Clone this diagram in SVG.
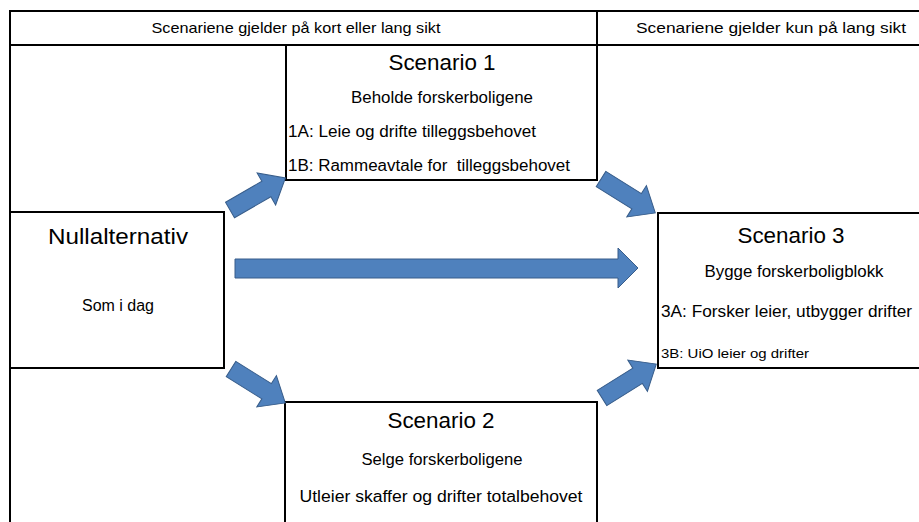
<svg xmlns="http://www.w3.org/2000/svg" width="919" height="522" viewBox="0 0 919 522">
<style>
.ln{fill:none;stroke:#000;stroke-width:2}
.bx{fill:#fff;stroke:#000;stroke-width:2}
text{font-family:"Liberation Sans",Arial,sans-serif;fill:#000}
.h{font-size:15px}
.t{font-size:22px}
.s{font-size:16px}
.sm{font-size:13px}
.ar{fill:#4F81BD;stroke:#385D8A;stroke-width:1}
</style>
<defs>
<path id="arr" d="M0,-9 H42 V-18.5 L64,0 L42,18.5 V9 H0 Z"/>
</defs>
<rect width="919" height="522" fill="#fff"/>
<g id="table">
<rect class="ln" x="10" y="11" width="930" height="34"/>
<line class="ln" x1="597" y1="11" x2="597" y2="45"/>
<line class="ln" x1="10" y1="45" x2="10" y2="530"/>
<text class="h" x="296" y="33" text-anchor="middle" textLength="289" lengthAdjust="spacingAndGlyphs">Scenariene gjelder på kort eller lang sikt</text>
<text class="h" x="771" y="33" text-anchor="middle" textLength="270" lengthAdjust="spacingAndGlyphs">Scenariene gjelder kun på lang sikt</text>
</g>
<g id="scenario1">
<rect class="bx" x="286" y="45" width="311" height="135"/>
<text class="t" x="442" y="70" text-anchor="middle" textLength="107" lengthAdjust="spacingAndGlyphs">Scenario 1</text>
<text class="s" x="442" y="103" text-anchor="middle" textLength="182" lengthAdjust="spacingAndGlyphs">Beholde forskerboligene</text>
<text class="s" x="288" y="137" textLength="248" lengthAdjust="spacingAndGlyphs">1A: Leie og drifte tilleggsbehovet</text>
<text class="s" x="288" y="171" textLength="282" lengthAdjust="spacingAndGlyphs">1B: Rammeavtale for&#160; tilleggsbehovet</text>
</g>
<g id="nullalternativ">
<rect class="bx" x="10" y="212" width="214" height="156"/>
<text class="t" x="118" y="244" text-anchor="middle" textLength="140" lengthAdjust="spacingAndGlyphs">Nullalternativ</text>
<text class="s" x="118" y="311" text-anchor="middle" textLength="72" lengthAdjust="spacingAndGlyphs">Som i dag</text>
</g>
<g id="scenario3">
<rect class="bx" x="658" y="213" width="290" height="155"/>
<text class="t" x="791" y="243" text-anchor="middle" textLength="107" lengthAdjust="spacingAndGlyphs">Scenario 3</text>
<text class="s" x="794" y="277" text-anchor="middle" textLength="179" lengthAdjust="spacingAndGlyphs">Bygge forskerboligblokk</text>
<text class="s" x="661" y="317" textLength="251" lengthAdjust="spacingAndGlyphs">3A: Forsker leier, utbygger drifter</text>
<text class="sm" x="661" y="358" textLength="148" lengthAdjust="spacingAndGlyphs">3B: UiO leier og drifter</text>
</g>
<g id="scenario2">
<rect class="bx" x="285" y="402" width="312" height="130"/>
<text class="t" x="441" y="428" text-anchor="middle" textLength="107" lengthAdjust="spacingAndGlyphs">Scenario 2</text>
<text class="s" x="442" y="465" text-anchor="middle" textLength="161" lengthAdjust="spacingAndGlyphs">Selge forskerboligene</text>
<text class="s" x="441" y="502" text-anchor="middle" textLength="283" lengthAdjust="spacingAndGlyphs">Utleier skaffer og drifter totalbehovet</text>
</g>
<g id="connectors">
<use href="#arr" class="ar" transform="translate(230,210) rotate(-30)"/>
<use href="#arr" class="ar" transform="translate(601,179) rotate(32)"/>
<use href="#arr" class="ar" transform="translate(231,369) rotate(32)"/>
<use href="#arr" class="ar" transform="translate(602,398) rotate(-32)"/>
<path class="ar" d="M235,259 H618 V248 L638,268 L618,288 V278 H235 Z"/>
</g>
</svg>
